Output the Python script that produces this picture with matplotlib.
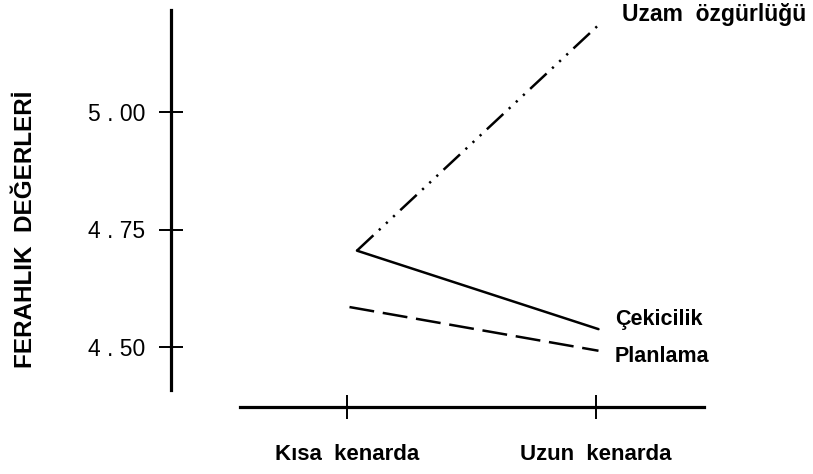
import matplotlib
matplotlib.use("Agg")
import matplotlib.pyplot as plt

plt.rcParams['font.family'] = ['Liberation Sans', 'DejaVu Sans']

# data
konum = ["Kısa  kenarda", "Uzun  kenarda"]
uzam = [4.705, 5.185]
cekicilik = [4.705, 4.538]
planlama = [4.585, 4.492]
yticks = [4.50, 4.75, 5.00]
ytick_labels = ["4 . 50", "4 . 75", "5 . 00"]

W, H = 813, 474
fig = plt.figure(figsize=(W / 100, H / 100), dpi=100)

# pixel helpers (ticks at x=347, 596; 5.00 at y=112, 4.50 at y=347)
px_per_x = 249.0
px_per_y = 470.0
def xv(px):
    return (px - 347) / px_per_x
def yv(py):
    return 5.00 + (112 - py) / px_per_y

ax = fig.add_axes([171 / W, (H - 407) / H, (W - 171) / W, 407 / H])
ax.set_xlim(xv(171), xv(W))
ax.set_ylim(yv(407), yv(0))

for s in ["top", "right"]:
    ax.spines[s].set_visible(False)
ax.spines["left"].set_linewidth(2.3)
ax.spines["bottom"].set_linewidth(2.3)
ax.spines["left"].set_bounds(yv(390), yv(10))
ax.spines["bottom"].set_bounds(xv(240), xv(704))

x = list(range(len(konum)))
ax.set_xticks(x)
ax.set_xticklabels(konum, fontsize=16, fontweight="bold")
ax.set_yticks(yticks)
ax.set_yticklabels(ytick_labels, fontsize=16.5)
ax.tick_params(axis="both", direction="inout", length=17, width=1.4, color="black")
ax.tick_params(axis="x", pad=18)
ax.tick_params(axis="y", pad=10)

xs = [0.04, 1.01]
xp = [0.01, 1.01]
ax.plot(xs, uzam, color="black", lw=1.8, dashes=(9, 3, 0.9, 3, 0.9, 3, 0.9, 3))
ax.plot(xs, cekicilik, color="black", lw=1.8, solid_capstyle="round")
ax.plot(xp, planlama, color="black", lw=1.8, dashes=(10, 3.5))

ax.text(xv(622), yv(15), "Uzam  özgürlüğü", fontsize=16.5, fontweight="bold",
        va="center", ha="left")
ax.text(xv(615), yv(320), "Çekicilik", fontsize=15.5, fontweight="bold",
        va="center", ha="left")
ax.text(xv(615), yv(357), "Planlama", fontsize=15.5, fontweight="bold",
        va="center", ha="left")

fig.text(26 / W, 1 - 229 / H, "FERAHLIK  DEĞERLERİ", rotation=90, fontsize=17.5,
         fontweight="bold", ha="center", va="center")

fig.savefig("out.png", dpi=100)
